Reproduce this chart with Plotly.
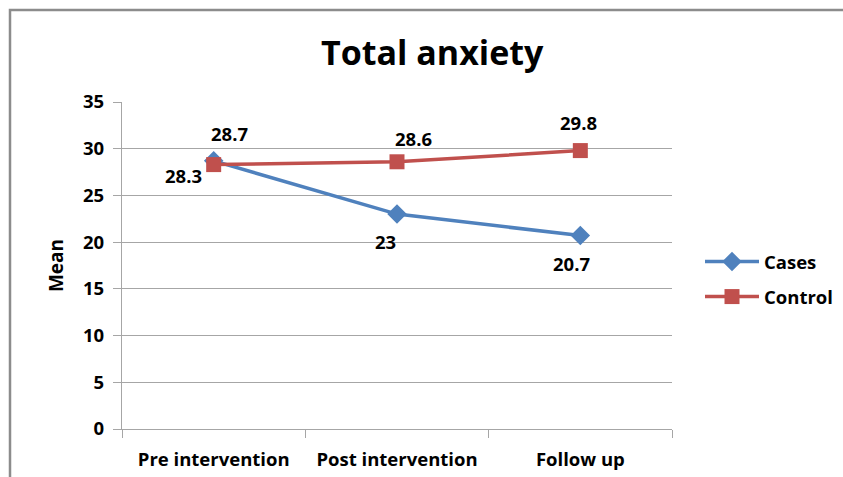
import plotly.graph_objects as go

categories = ["Pre intervention", "Post intervention", "Follow up"]
cases = [28.7, 23, 20.7]
control = [28.3, 28.6, 29.8]
y_ticks = [0, 5, 10, 15, 20, 25, 30, 35]

FONT = "Open Sans"
BLUE = "#4F81BD"
RED = "#C0504D"

W, H = 843, 477
L, R, T, B = 122, 672, 102, 429

fig = go.Figure()
fig.add_trace(go.Scatter(
    x=categories, y=cases, name="Cases", mode="lines+markers",
    line=dict(color=BLUE, width=3.5),
    marker=dict(symbol="diamond", size=15, color=BLUE),
    legendgroup="a",
))
fig.add_trace(go.Scatter(
    x=categories, y=control, name="Control", mode="lines+markers",
    line=dict(color=RED, width=3.5),
    marker=dict(symbol="square", size=15, color=RED),
    legendgroup="b",
))

LBL = dict(family=FONT, size=18.5, color="black", weight="bold")

# data labels (offsets in pixels)
case_off = [(16, 27), (-12, -27), (-9, -28)]
ctrl_off = [(-30, -11), (16, 23), (-2, 28)]
for i, c in enumerate(categories):
    dx, dy = case_off[i]
    fig.add_annotation(x=c, y=cases[i], text=f"{cases[i]:g}", showarrow=False,
                       xshift=dx, yshift=dy, font=LBL)
    dx, dy = ctrl_off[i]
    fig.add_annotation(x=c, y=control[i], text=f"{control[i]:g}", showarrow=False,
                       xshift=dx, yshift=dy, font=LBL)

# title
fig.add_annotation(xref="paper", yref="paper", x=(432 - L) / (R - L), y=(B - 52) / (B - T),
                   text="Total anxiety", showarrow=False, xanchor="center", yanchor="middle",
                   font=dict(family=FONT, size=34, color="black", weight="bold"))

# outer frame
fig.add_shape(type="rect", xref="paper", yref="paper",
              x0=(10 - L) / (R - L), x1=(860 - L) / (R - L),
              y0=(B - 490) / (B - T), y1=(B - 10) / (B - T),
              line=dict(color="#8C8C8C", width=2.5), layer="below")

fig.update_layout(
    width=W, height=H,
    margin=dict(l=L, r=W - R, t=T, b=H - B, autoexpand=False),
    paper_bgcolor="white", plot_bgcolor="white",
    showlegend=True,
    legend=dict(x=(700 - L) / (R - L), y=(B - 243) / (B - T), xanchor="left", yanchor="top",
                font=dict(family=FONT, size=18.5, color="black", weight="bold"),
                tracegroupgap=8, traceorder="grouped", bgcolor="rgba(0,0,0,0)",
                itemwidth=54),
    font=dict(family=FONT, color="black"),
)
fig.update_yaxes(
    range=[0, 35], tickvals=y_ticks, showgrid=True, gridcolor="#A6A6A6", gridwidth=1.2,
    showline=True, linecolor="#A6A6A6", linewidth=1.2, ticks="outside", ticklen=8, tickcolor="#A6A6A6",
    tickfont=dict(family=FONT, size=18.5, color="black", weight="bold"), zeroline=False,
    ticklabelstandoff=5, automargin=False,
    title=dict(text="Mean", font=dict(family=FONT, size=19, color="black", weight="bold"), standoff=14),
)
fig.update_xaxes(
    type="category", showgrid=False, showline=True, linecolor="#A6A6A6", linewidth=1.2,
    ticks="outside", tickson="boundaries", ticklen=8, tickcolor="#A6A6A6",
    tickfont=dict(family=FONT, size=18.5, color="black", weight="bold"),
    ticklabelstandoff=14, automargin=False,
    range=[-0.5, 2.5],
)

fig.write_html("out.html")
